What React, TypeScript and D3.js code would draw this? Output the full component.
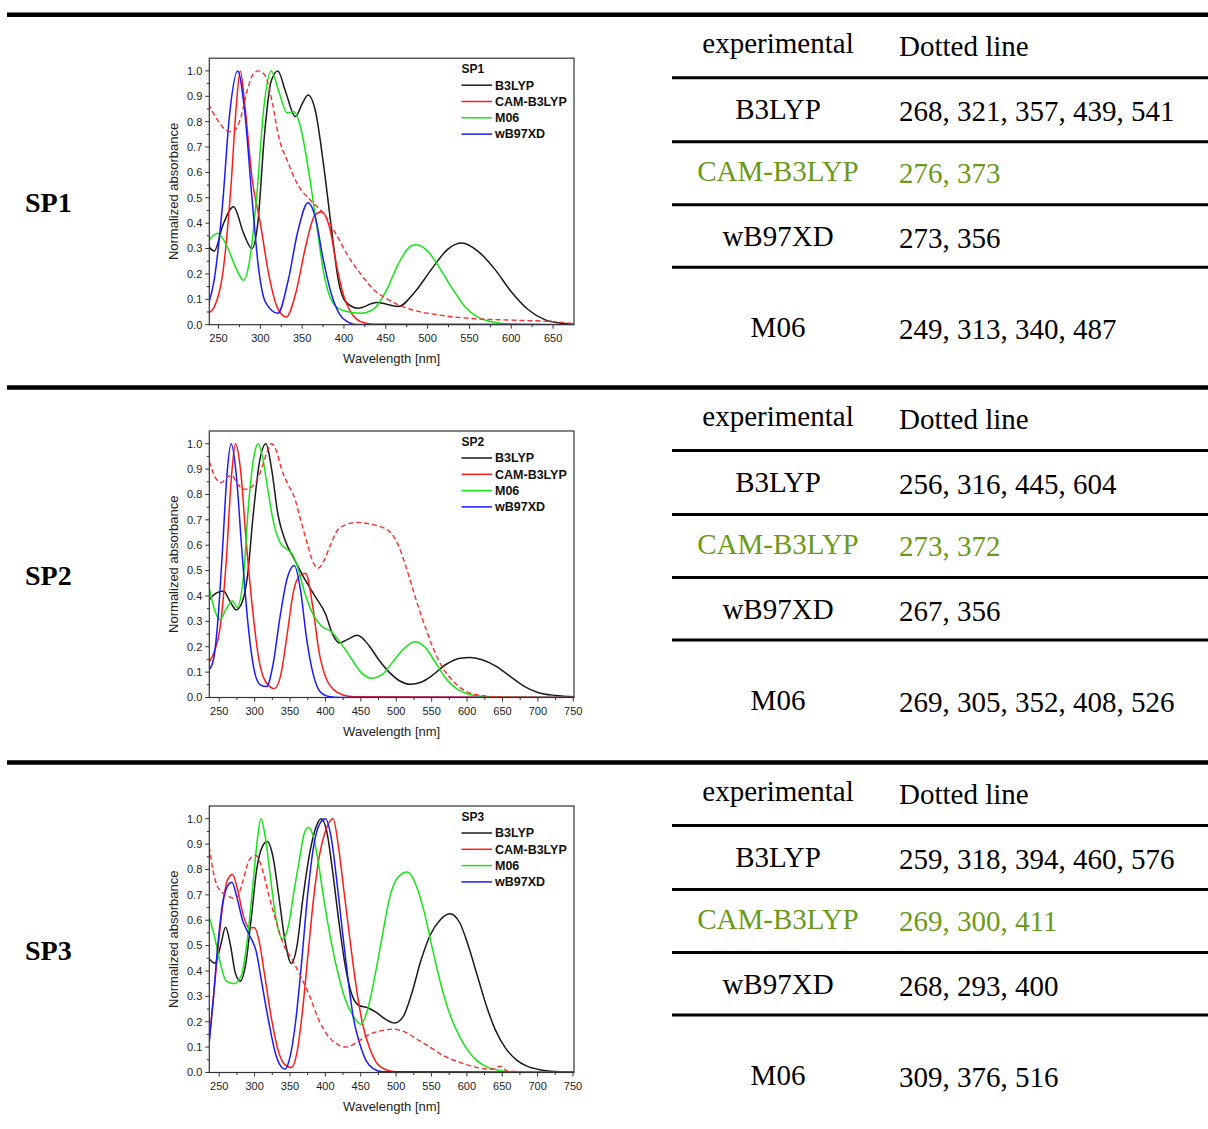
import React from "react";
import * as d3 from "d3";

type Pt = [number, number];

// ---- SP1 spectra (wavelength nm, normalized absorbance) ----
const sp1B3lyp: Pt[] = [[238,0.31],[245,0.29],[255,0.39],[268,0.465],[280,0.36],[290,0.3],[297,0.4],[305,0.75],[313,0.96],[321,1.0],[330,0.92],[342,0.82],[350,0.87],[357,0.905],[366,0.84],[376,0.62],[385,0.38],[393,0.18],[402,0.09],[417,0.065],[439,0.087],[465,0.072],[485,0.13],[505,0.22],[525,0.3],[541,0.322],[560,0.29],[580,0.22],[600,0.13],[620,0.06],[640,0.02],[660,0.006],[676,0.002]];
const sp1Cam: Pt[] = [[238,0.045],[245,0.07],[255,0.2],[265,0.55],[271,0.85],[276,1.0],[282,0.85],[290,0.58],[300,0.4],[310,0.2],[320,0.07],[331,0.03],[342,0.12],[355,0.32],[365,0.43],[373,0.445],[383,0.38],[392,0.22],[400,0.11],[410,0.04],[420,0.012],[435,0.002],[676,0]];
const sp1M06: Pt[] = [[238,0.33],[249,0.36],[260,0.31],[270,0.23],[280,0.175],[288,0.27],[296,0.52],[304,0.85],[313,1.0],[322,0.92],[332,0.835],[340,0.84],[348,0.78],[358,0.6],[367,0.4],[376,0.2],[388,0.08],[400,0.055],[420,0.045],[435,0.06],[450,0.13],[465,0.24],[480,0.31],[487,0.315],[500,0.29],[515,0.22],[530,0.14],[545,0.07],[560,0.03],[580,0.01],[600,0.003],[676,0]];
const sp1Wb97: Pt[] = [[238,0.08],[245,0.18],[255,0.48],[263,0.82],[273,1.0],[281,0.85],[290,0.5],[298,0.22],[306,0.09],[321,0.045],[333,0.17],[345,0.37],[357,0.48],[366,0.42],[375,0.26],[385,0.12],[395,0.04],[405,0.01],[415,0.001],[676,0]];
const sp1Exp: Pt[] = [[238,0.87],[250,0.8],[260,0.765],[267,0.76],[276,0.81],[285,0.93],[292,0.99],[298,1.0],[306,0.98],[314,0.88],[322,0.74],[333,0.64],[345,0.55],[360,0.49],[375,0.44],[390,0.36],[405,0.27],[420,0.2],[435,0.14],[455,0.095],[480,0.06],[510,0.04],[550,0.025],[600,0.018],[650,0.012],[676,0.004]];

// ---- SP2 spectra ----
const sp2B3lyp: Pt[] = [[236,0.385],[245,0.41],[256,0.42],[265,0.38],[274,0.345],[283,0.38],[290,0.48],[298,0.72],[307,0.93],[316,1.0],[324,0.9],[333,0.72],[343,0.62],[355,0.55],[370,0.47],[385,0.4],[400,0.33],[410,0.25],[420,0.215],[432,0.23],[445,0.245],[460,0.21],[475,0.15],[490,0.1],[505,0.065],[520,0.052],[535,0.06],[550,0.085],[570,0.13],[590,0.155],[604,0.158],[620,0.15],[640,0.125],[660,0.085],[680,0.045],[700,0.02],[725,0.008],[751,0.003]];
const sp2Cam: Pt[] = [[236,0.14],[243,0.18],[251,0.27],[260,0.54],[267,0.86],[273,1.0],[280,0.9],[288,0.62],[297,0.35],[306,0.15],[316,0.06],[328,0.035],[337,0.09],[346,0.25],[355,0.42],[364,0.48],[372,0.49],[382,0.36],[391,0.18],[401,0.075],[412,0.03],[425,0.01],[440,0.003],[751,0]];
const sp2M06: Pt[] = [[236,0.43],[243,0.35],[251,0.306],[260,0.35],[269,0.38],[275,0.355],[284,0.47],[292,0.78],[299,0.95],[305,1.0],[311,0.95],[318,0.83],[326,0.7],[336,0.61],[345,0.585],[352,0.57],[360,0.52],[370,0.42],[382,0.33],[395,0.28],[408,0.26],[420,0.22],[435,0.16],[450,0.1],[465,0.076],[480,0.09],[495,0.14],[510,0.19],[526,0.22],[540,0.2],[555,0.14],[570,0.075],[585,0.035],[600,0.015],[620,0.005],[650,0.001],[751,0]];
const sp2Wb97: Pt[] = [[236,0.11],[242,0.15],[248,0.3],[255,0.6],[261,0.88],[267,1.0],[274,0.88],[282,0.58],[291,0.28],[300,0.1],[308,0.05],[317,0.043],[326,0.13],[336,0.32],[346,0.47],[356,0.52],[365,0.42],[373,0.24],[382,0.1],[392,0.025],[405,0.004],[420,0],[751,0]];
const sp2Exp: Pt[] = [[236,0.93],[246,0.86],[253,0.847],[262,0.87],[268,0.875],[276,0.84],[286,0.82],[296,0.83],[304,0.86],[312,0.92],[318,0.97],[324,1.0],[331,0.97],[338,0.9],[347,0.84],[356,0.79],[365,0.7],[375,0.6],[383,0.53],[390,0.51],[398,0.54],[407,0.6],[416,0.655],[428,0.68],[444,0.69],[460,0.685],[475,0.675],[490,0.655],[503,0.6],[512,0.53],[522,0.44],[532,0.35],[542,0.27],[552,0.195],[565,0.12],[580,0.065],[598,0.025],[620,0.008],[650,0.002],[751,0]];

// ---- SP3 spectra ----
const sp3B3lyp: Pt[] = [[236,0.447],[244,0.43],[252,0.5],[259,0.572],[266,0.5],[273,0.39],[280,0.36],[287,0.42],[295,0.6],[303,0.8],[311,0.89],[318,0.91],[326,0.85],[334,0.7],[343,0.52],[352,0.43],[360,0.5],[368,0.68],[377,0.85],[386,0.96],[394,1.0],[402,0.95],[410,0.8],[418,0.62],[427,0.44],[436,0.32],[447,0.265],[460,0.255],[472,0.237],[485,0.21],[498,0.195],[510,0.22],[522,0.31],[535,0.44],[548,0.54],[562,0.6],[576,0.625],[590,0.59],[602,0.5],[615,0.38],[628,0.26],[640,0.17],[655,0.095],[670,0.05],[685,0.025],[705,0.01],[725,0.004],[751,0.002]];
const sp3Cam: Pt[] = [[236,0.13],[242,0.3],[248,0.48],[255,0.66],[262,0.76],[269,0.78],[276,0.72],[284,0.62],[292,0.57],[300,0.57],[307,0.51],[315,0.37],[324,0.21],[333,0.09],[343,0.03],[352,0.02],[360,0.08],[368,0.25],[376,0.48],[384,0.7],[392,0.86],[400,0.95],[411,1.0],[419,0.88],[427,0.7],[435,0.52],[443,0.35],[452,0.2],[462,0.1],[472,0.04],[485,0.012],[500,0.003],[751,0]];
const sp3M06: Pt[] = [[236,0.61],[243,0.54],[250,0.45],[260,0.36],[271,0.35],[281,0.38],[290,0.53],[298,0.75],[304,0.92],[309,1.0],[315,0.93],[322,0.78],[330,0.61],[340,0.525],[348,0.58],[356,0.72],[364,0.85],[370,0.94],[376,0.965],[383,0.93],[390,0.83],[398,0.68],[408,0.52],[418,0.39],[428,0.29],[440,0.22],[450,0.19],[460,0.25],[470,0.38],[480,0.53],[491,0.69],[503,0.77],[516,0.79],[528,0.74],[540,0.63],[552,0.48],[564,0.34],[576,0.23],[590,0.14],[602,0.085],[615,0.045],[630,0.02],[650,0.006],[670,0.001],[751,0]];
const sp3Wb97: Pt[] = [[236,0.12],[242,0.3],[248,0.5],[255,0.67],[261,0.73],[268,0.75],[275,0.69],[283,0.6],[293,0.54],[302,0.48],[311,0.34],[320,0.2],[330,0.07],[337,0.025],[343,0.013],[350,0.06],[358,0.2],[366,0.42],[375,0.7],[384,0.9],[392,0.98],[400,1.0],[408,0.93],[416,0.76],[424,0.56],[432,0.37],[440,0.21],[449,0.11],[458,0.045],[468,0.015],[480,0.003],[751,0]];
const sp3Exp: Pt[] = [[236,0.89],[241,0.8],[248,0.73],[260,0.7],[274,0.685],[283,0.75],[293,0.84],[302,0.855],[311,0.8],[320,0.7],[330,0.6],[340,0.51],[352,0.45],[365,0.38],[378,0.3],[392,0.2],[405,0.14],[418,0.11],[430,0.1],[445,0.12],[462,0.15],[480,0.165],[496,0.171],[512,0.16],[530,0.13],[548,0.1],[567,0.066],[590,0.04],[614,0.02],[635,0.013],[648,0.025],[657,0.006],[690,0.002],[751,0]];

// ---- table text ----
const methods = ["B3LYP", "CAM-B3LYP", "wB97XD", "M06"];
const legendNames = ["B3LYP", "CAM-B3LYP", "M06", "wB97XD"];
const sp1Peaks = ["268, 321, 357, 439, 541", "276, 373", "273, 356", "249, 313, 340, 487"];
const sp2Peaks = ["256, 316, 445, 604", "273, 372", "267, 356", "269, 305, 352, 408, 526"];
const sp3Peaks = ["259, 318, 394, 460, 576", "269, 300, 411", "268, 293, 400", "309, 376, 516"];
const panelNames = ["SP1", "SP2", "SP3"];
const sp1Ticks = [250, 300, 350, 400, 450, 500, 550, 600, 650];
const wideTicks = [250, 300, 350, 400, 450, 500, 550, 600, 650, 700, 750];
const yTicks = [0, 0.1, 0.2, 0.3, 0.4, 0.5, 0.6, 0.7, 0.8, 0.9, 1.0];

const panels = [
  { name: panelNames[0], domain: [239, 675], ticks: sp1Ticks, series: [sp1B3lyp, sp1Cam, sp1M06, sp1Wb97], exp: sp1Exp, peaks: sp1Peaks },
  { name: panelNames[1], domain: [236, 751], ticks: wideTicks, series: [sp2B3lyp, sp2Cam, sp2M06, sp2Wb97], exp: sp2Exp, peaks: sp2Peaks },
  { name: panelNames[2], domain: [236, 751.5], ticks: wideTicks, series: [sp3B3lyp, sp3Cam, sp3M06, sp3Wb97], exp: sp3Exp, peaks: sp3Peaks },
];

const seriesColors = ["#1a1a1a", "#ff1a1a", "#14e614", "#1a1aff"];
const olive = "#6b9a18";
const serif = "'Liberation Serif', 'Times New Roman', serif";
const sans = "'Liberation Sans', Arial, sans-serif";
const rowTops = [14.7, 387.5, 762.5];

const Spectrum = ({ panel, top, idx }: any) => {
  const left = 209.3;
  const right = 574;
  const pTop = top + 43.5;
  const pBot = top + 310;
  const x = d3.scaleLinear().domain(panel.domain).range([left, right]);
  const y = d3.scaleLinear().domain([0, 1.05]).range([pBot, pTop]);
  const line = d3
    .line<Pt>()
    .x((d) => x(d[0]))
    .y((d) => y(d[1]))
    .curve(d3.curveMonotoneX);
  const minorX = d3.range(250, panel.domain[1], 25).filter((v) => v % 50 !== 0);
  const minorY = d3.range(0.05, 1.05, 0.1);
  const clipId = `clip-${idx}`;
  const axisColor = "#333";

  return (
    <g>
      <defs>
        <clipPath id={clipId}>
          <rect x={left} y={pTop} width={right - left} height={pBot - pTop} />
        </clipPath>
      </defs>

      {/* curves */}
      <g clipPath={`url(#${clipId})`}>
        {panel.series.map((s: Pt[], i: number) => (
          <path key={i} d={line(s) || ""} fill="none" stroke={seriesColors[i]} strokeWidth={1.5} />
        ))}
        <path d={line(panel.exp) || ""} fill="none" stroke="#ff2a2a" strokeWidth={1.4} strokeDasharray="5,3" />
      </g>

      {/* frame */}
      <rect x={left} y={pTop} width={right - left} height={pBot - pTop} fill="none" stroke={axisColor} strokeWidth={1.2} />

      {/* x axis */}
      <g style={{ fontFamily: sans, fontSize: "11px" }}>
        {panel.ticks.map((t: number) => (
          <g key={t} transform={`translate(${x(t)},${pBot})`}>
            <line y2={4} stroke={axisColor} strokeWidth={1} />
            <text y={17} textAnchor="middle" fill="#222">{t}</text>
          </g>
        ))}
        {minorX.map((t: number) => (
          <line key={t} x1={x(t)} x2={x(t)} y1={pBot} y2={pBot + 2.5} stroke={axisColor} strokeWidth={1} />
        ))}
        <text x={(left + right) / 2} y={pBot + 38} textAnchor="middle" fontSize="13px" fill="#222">
          Wavelength [nm]
        </text>
      </g>

      {/* y axis */}
      <g style={{ fontFamily: sans, fontSize: "11px" }}>
        {yTicks.map((t) => (
          <g key={t} transform={`translate(${left},${y(t)})`}>
            <line x2={-4} stroke={axisColor} strokeWidth={1} />
            <text x={-7} dy="0.35em" textAnchor="end" fill="#222">{t.toFixed(1)}</text>
          </g>
        ))}
        {minorY.map((t: number) => (
          <line key={t} x1={left} x2={left - 2.5} y1={y(t)} y2={y(t)} stroke={axisColor} strokeWidth={1} />
        ))}
        <text
          transform={`translate(${left - 36},${(pTop + pBot) / 2}) rotate(-90)`}
          textAnchor="middle"
          dy="0.35em"
          fontSize="13px"
          fill="#222"
        >
          Normalized absorbance
        </text>
      </g>

      {/* legend */}
      <g style={{ fontFamily: sans, fontWeight: "bold" }}>
        <text x={461.5} y={pTop + 15} fontSize="12px" fill="#111">{panel.name}</text>
        {legendNames.map((n, i) => {
          const ly = pTop + 27 + i * 16.3;
          return (
            <g key={n}>
              <line x1={461.5} x2={492} y1={ly} y2={ly} stroke={seriesColors[i]} strokeWidth={1.5} />
              <text x={495} y={ly} dy="0.35em" fontSize="12.5px" fill="#111">{n}</text>
            </g>
          );
        })}
      </g>
    </g>
  );
};

const App = () => {
  const thin = [63, 127, 190, 252.5];
  const labelBase = [104.5, 166, 231, 322];

  return (
    <div>
      <svg width={1208} height={1129} style={{ position: "absolute", left: 0, top: 0, background: "#fff" }}>
        {panels.map((p, r) => {
          const T = rowTops[r];
          return (
            <g key={p.name}>
              <line x1={7} x2={1208} y1={T} y2={T} stroke="#000" strokeWidth={4.5} />
              {thin.map((o) => (
                <line key={o} x1={672} x2={1208} y1={T + o} y2={T + o} stroke="#000" strokeWidth={3} />
              ))}
              <text x={25} y={T + 197} fontFamily={serif} fontWeight="bold" fontSize="28px" fill="#000">
                {p.name}
              </text>
              <Spectrum panel={p} top={T} idx={r} />
              <g fontFamily={serif} fontSize="29px">
                <text x={778} y={T + 38.5} textAnchor="middle" fill="#000">experimental</text>
                <text x={899} y={T + 41} fill="#000">Dotted line</text>
                {methods.map((m, i) => {
                  const col = m === "CAM-B3LYP" ? olive : "#000";
                  return (
                    <g key={m}>
                      <text x={778} y={T + labelBase[i]} textAnchor="middle" fill={col}>{m}</text>
                      <text x={899} y={T + labelBase[i] + 2} fill={col}>{p.peaks[i]}</text>
                    </g>
                  );
                })}
              </g>
            </g>
          );
        })}
      </svg>
    </div>
  );
};

export default App;
